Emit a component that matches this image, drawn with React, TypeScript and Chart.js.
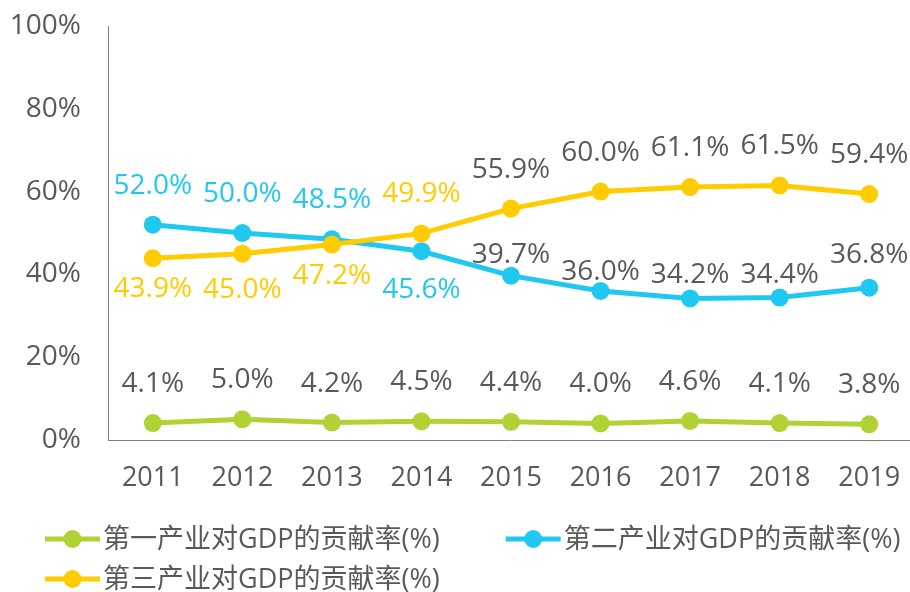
import React, { useEffect, useRef } from 'react';
import { Chart, registerables } from 'chart.js';

Chart.register(...registerables);

// ---- data ----
const years = ['2011', '2012', '2013', '2014', '2015', '2016', '2017', '2018', '2019'];
const primaryShare = [4.1, 5.0, 4.2, 4.5, 4.4, 4.0, 4.6, 4.1, 3.8];
const secondaryShare = [52.0, 50.0, 48.5, 45.6, 39.7, 36.0, 34.2, 34.4, 36.8];
const tertiaryShare = [43.9, 45.0, 47.2, 49.9, 55.9, 60.0, 61.1, 61.5, 59.4];
const seriesNames = ['第一产业对GDP的贡献率(%)', '第二产业对GDP的贡献率(%)', '第三产业对GDP的贡献率(%)'];
const yTickValues = [0, 20, 40, 60, 80, 100];

// ---- styles ----
const GREEN = '#B0D235';
const BLUE = '#20C8F0';
const YELLOW = '#FFCC00';
const GRAY = '#595959';
const AXIS = '#7F7F7F';
const FONT_FAMILY = '"Open Sans", "Noto Sans CJK SC", sans-serif';
const LABEL_SIZE = 28;
const Y_TICK_SIZE = 28;
const X_TICK_SIZE = 27;
const LEGEND_SIZE = 27;
const VIEW_W = 910;
const CANVAS_W = 923; // plot area runs slightly past the visible right edge, as in the reference
const CANVAS_H = 592;

// label gaps (px): positive = above point (gap to text bottom), negative = below (gap to text top)
const primaryLabelGap = [31, 31, 31, 31, 31, 31, 31, 31, 31];
const secondaryLabelGap = [31, 31, 31, -27, 13, 11, 15, 15, 25];
const tertiaryLabelGap = [-19, -24, -19, 31, 31, 31, 31, 31, 31];
const primaryLabelColor = [GRAY, GRAY, GRAY, GRAY, GRAY, GRAY, GRAY, GRAY, GRAY];
const secondaryLabelColor = [BLUE, BLUE, BLUE, BLUE, GRAY, GRAY, GRAY, GRAY, GRAY];
const tertiaryLabelColor = [YELLOW, YELLOW, YELLOW, YELLOW, GRAY, GRAY, GRAY, GRAY, GRAY];

const labelPlugin = {
  id: 'valueLabels',
  afterDatasetsDraw(chart: any) {
    const ctx = chart.ctx;
    ctx.save();
    ctx.font = `${LABEL_SIZE}px ${FONT_FAMILY}`;
    ctx.textAlign = 'center';
    ctx.textBaseline = 'alphabetic';
    const capH = LABEL_SIZE * 0.714;
    chart.data.datasets.forEach((ds: any, i: number) => {
      const meta = chart.getDatasetMeta(i);
      meta.data.forEach((pt: any, j: number) => {
        const gap = ds.labelGap[j];
        const y = gap >= 0 ? pt.y - gap : pt.y - gap + capH;
        ctx.fillStyle = ds.labelColor[j];
        ctx.fillText(ds.data[j].toFixed(1) + '%', pt.x, y);
      });
    });
    ctx.restore();
  },
};

const legendPlugin = {
  id: 'lineLegend',
  afterDraw(chart: any) {
    const ctx = chart.ctx;
    ctx.save();
    ctx.font = `${LEGEND_SIZE}px ${FONT_FAMILY}`;
    ctx.textBaseline = 'middle';
    ctx.textAlign = 'left';
    const startX = 45;
    const lineLen = 55;
    const textGap = 3;
    const itemGap = 66;
    const rowH = 40;
    let x = startX;
    let y = 539;
    const maxX = VIEW_W;
    chart.data.datasets.forEach((ds: any) => {
      const tw = ctx.measureText(ds.label).width;
      const w = lineLen + textGap + tw;
      if (x > startX && x + w > maxX) {
        x = startX;
        y += rowH;
      }
      ctx.strokeStyle = ds.borderColor;
      ctx.lineWidth = 5;
      ctx.lineCap = 'butt';
      ctx.beginPath();
      ctx.moveTo(x, y);
      ctx.lineTo(x + lineLen, y);
      ctx.stroke();
      ctx.fillStyle = ds.borderColor;
      ctx.beginPath();
      ctx.arc(x + lineLen / 2, y, 9, 0, Math.PI * 2);
      ctx.fill();
      ctx.fillStyle = GRAY;
      ctx.fillText(ds.label, x + lineLen + textGap, y + 1);
      x += w + itemGap;
    });
    ctx.restore();
  },
};

export default function App() {
  const canvasRef = useRef<HTMLCanvasElement | null>(null);

  useEffect(() => {
    document.body.style.margin = '0';
    const canvas = canvasRef.current;
    if (!canvas) return;
    const mk = (label: string, data: number[], color: string, gaps: number[], colors: string[], order: number) => ({
      label,
      data,
      borderColor: color,
      backgroundColor: color,
      pointBackgroundColor: color,
      pointBorderWidth: 0,
      pointRadius: 9,
      borderWidth: 5,
      tension: 0,
      fill: false,
      order,
      labelGap: gaps,
      labelColor: colors,
    });
    const chart = new Chart(canvas, {
      type: 'line',
      data: {
        labels: years,
        datasets: [
          mk(seriesNames[0], primaryShare, GREEN, primaryLabelGap, primaryLabelColor, 3),
          mk(seriesNames[1], secondaryShare, BLUE, secondaryLabelGap, secondaryLabelColor, 2),
          mk(seriesNames[2], tertiaryShare, YELLOW, tertiaryLabelGap, tertiaryLabelColor, 1),
        ] as any,
      },
      options: {
        animation: false,
        responsive: false,
        devicePixelRatio: 1,
        layout: { padding: { left: 0, right: 0, top: 26, bottom: CANVAS_H - 440 - 60 } },
        plugins: { legend: { display: false }, tooltip: { enabled: false } },
        scales: {
          x: {
            offset: true,
            grid: { display: false, drawTicks: false },
            border: { display: true, color: AXIS, width: 1 },
            ticks: { font: { family: FONT_FAMILY, size: X_TICK_SIZE }, color: GRAY, padding: 22 },
            afterFit(s: any) {
              s.height = 60;
              s.paddingLeft = 0;
              s.paddingRight = 0;
            },
          },
          y: {
            min: 0,
            max: 100,
            afterBuildTicks(s: any) { s.ticks = yTickValues.map((v) => ({ value: v })); },
            grid: { display: false, drawTicks: false },
            border: { display: true, color: AXIS, width: 1 },
            ticks: { font: { family: FONT_FAMILY, size: Y_TICK_SIZE }, color: GRAY, padding: 27, callback: (v: any) => v + '%' },
            afterFit(s: any) {
              s.width = 108;
              s.paddingTop = 0;
              s.paddingBottom = 0;
            },
          },
        },
      } as any,
      plugins: [labelPlugin, legendPlugin],
    });
    return () => chart.destroy();
  }, []);

  return (
    <div style={{ width: VIEW_W, height: CANVAS_H, overflow: 'hidden' }}>
      <canvas ref={canvasRef} width={CANVAS_W} height={CANVAS_H} style={{ display: 'block' }} />
    </div>
  );
}
